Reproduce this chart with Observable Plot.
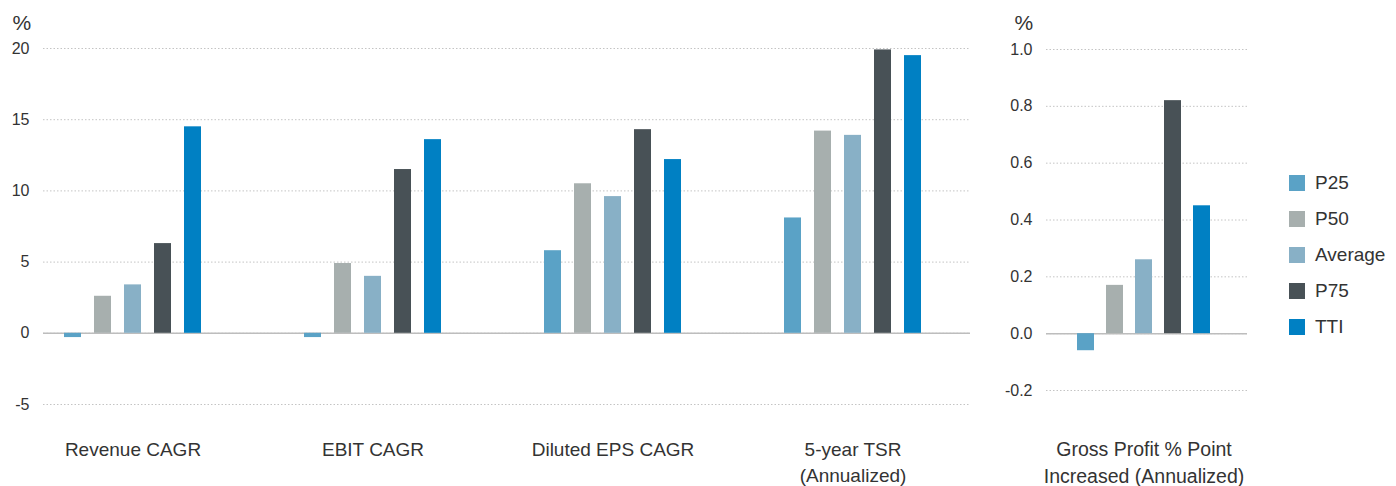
<!DOCTYPE html>
<html>
<head>
<meta charset="utf-8">
<script src="https://cdn.jsdelivr.net/npm/d3@7"></script>
<script src="https://cdn.jsdelivr.net/npm/@observablehq/plot@0.6"></script>
<style>
  body { margin: 0; background: #fff; font-family: "Liberation Sans", Arial, sans-serif; }
  #wrap { position: relative; width: 1396px; height: 486px; overflow: hidden; }
  #leftBack, #leftFront { position: absolute; left: 0; top: 0; }
  #right { position: absolute; left: 980px; top: 0; }
  #legend { position: absolute; left: 1289px; top: 165px; color: #333; font-size: 19px; }
  #legend .item { display: flex; align-items: center; height: 36px; }
  #legend .sw { width: 16px; height: 16px; margin-right: 10px; }
</style>
</head>
<body>
<div id="wrap">
  <div id="leftBack"></div>
  <div id="leftFront"></div>
  <div id="right"></div>
  <div id="legend"></div>
</div>
<script>
const metrics = ["Revenue CAGR", "EBIT CAGR", "Diluted EPS CAGR", "5-year TSR\n(Annualized)"];
const series = ["P25", "P50", "Average", "P75", "TTI"];
const colors = ["#5aa2c6", "#a7afae", "#88b0c6", "#485156", "#0080c3"];
const revenueCagr = [-0.3, 2.6, 3.4, 6.3, 14.5];
const ebitCagr = [-0.3, 4.9, 4.0, 11.5, 13.6];
const dilutedEpsCagr = [5.8, 10.5, 9.6, 14.3, 12.2];
const tsr5y = [8.1, 14.2, 13.9, 19.9, 19.5];
const grossProfitLabel = "Gross Profit % Point\nIncreased (Annualized)";
const grossProfit = [-0.06, 0.17, 0.26, 0.82, 0.45];
const leftTicks = [-5, 0, 5, 10, 15, 20];
const rightTicks = [-0.2, 0, 0.2, 0.4, 0.6, 0.8, 1.0];

const groups = [revenueCagr, ebitCagr, dilutedEpsCagr, tsr5y];
const leftData = [];
metrics.forEach((m, i) => series.forEach((s, j) => leftData.push({metric: m, series: s, value: groups[i][j]})));
const rightData = series.map((s, j) => ({series: s, value: grossProfit[j]}));

const textColor = "#333";
const gridStyle = {stroke: "#c4c4c4", strokeOpacity: 1, strokeDasharray: "1.5,2"};
const frame = {width: 980, height: 486, marginLeft: 43, marginRight: 10, marginTop: 48, marginBottom: 82};
const font = "Liberation Sans, Arial, sans-serif";

// background layer: grid, zero line, y ticks, unit
const leftBack = Plot.plot({
  ...frame,
  style: {fontFamily: font, fontSize: "16px", color: textColor, background: "white"},
  y: {domain: [-5, 20], axis: null},
  marks: [
    Plot.gridY(leftTicks, gridStyle),
    Plot.axisY(leftTicks, {tickSize: 0, tickPadding: 14, tickFormat: d => String(d), fontSize: 16, fill: textColor, label: null}),
    Plot.ruleY([0], {stroke: "#bdbdbd", strokeWidth: 1.5}),
    Plot.text(["%"], {text: d => d, frameAnchor: "top-left", dx: -31, dy: -33, fontSize: 21, fill: textColor})
  ]
});
document.getElementById("leftBack").append(leftBack);

// foreground layer: grouped bars and category labels
const leftFront = Plot.plot({
  ...frame,
  style: {fontFamily: font, fontSize: "16px", color: textColor, background: "transparent"},
  fx: {domain: metrics, paddingInner: 0, paddingOuter: -0.075, align: 0.914, axis: null},
  x: {domain: series, paddingInner: 0.43, paddingOuter: 1.69, axis: null},
  y: {domain: [-5, 20], axis: null},
  color: {domain: series, range: colors},
  marks: [
    Plot.barY(leftData, {fx: "metric", x: "series", y: "value", fill: "series"}),
    Plot.text(metrics, {fx: d => d, x: () => "Average", text: d => d, frameAnchor: "bottom", lineAnchor: "top", dy: 33, fontSize: 19, lineHeight: 1.37, fill: textColor})
  ]
});
document.getElementById("leftFront").append(leftFront);

const right = Plot.plot({
  width: 300, height: 486,
  marginLeft: 66, marginRight: 33, marginTop: 49, marginBottom: 96,
  style: {fontFamily: font, fontSize: "16px", color: textColor, background: "white"},
  x: {domain: series, paddingInner: 0.42, paddingOuter: 1.12, align: 0.45, axis: null},
  y: {domain: [-0.2, 1.0], axis: null},
  color: {domain: series, range: colors},
  marks: [
    Plot.gridY(rightTicks, gridStyle),
    Plot.axisY(rightTicks, {tickSize: 0, tickPadding: 14, tickFormat: d => d.toFixed(1), fontSize: 16, fill: textColor, label: null}),
    Plot.ruleY([0], {stroke: "#bdbdbd", strokeWidth: 1.5}),
    Plot.barY(rightData, {x: "series", y: "value", fill: "series"}),
    Plot.text([grossProfitLabel], {x: () => "Average", text: d => d, frameAnchor: "bottom", lineAnchor: "top", dy: 47, fontSize: 19.5, lineHeight: 1.35, fill: textColor}),
    Plot.text(["%"], {text: d => d, frameAnchor: "top-left", dx: -32, dy: -34, fontSize: 21, fill: textColor})
  ]
});
document.getElementById("right").append(right);

const legend = document.getElementById("legend");
series.forEach((s, i) => {
  const item = document.createElement("div");
  item.className = "item";
  const sw = document.createElement("span");
  sw.className = "sw";
  sw.style.background = colors[i];
  const lab = document.createElement("span");
  lab.textContent = s;
  item.append(sw, lab);
  legend.append(item);
});
</script>
</body>
</html>
